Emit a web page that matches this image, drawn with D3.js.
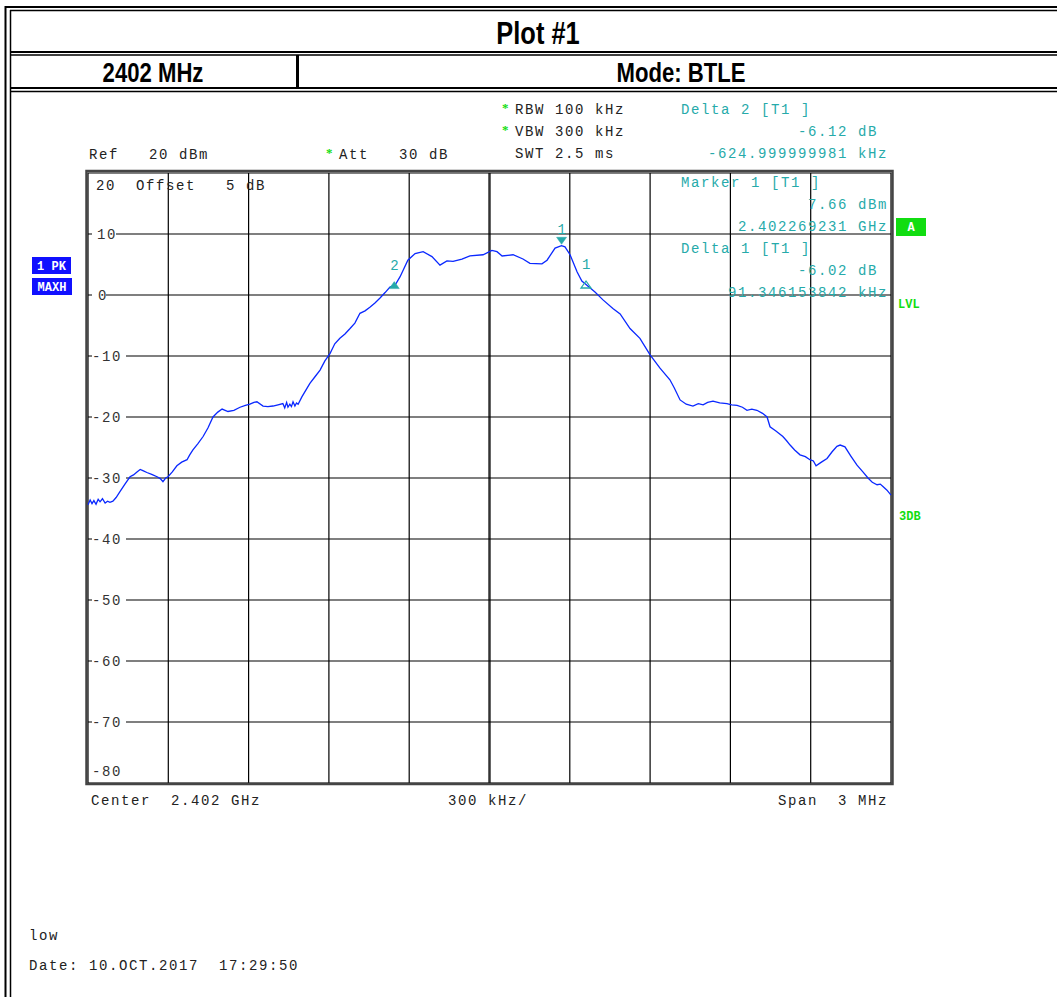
<!DOCTYPE html>
<html><head><meta charset="utf-8">
<script src="https://cdn.jsdelivr.net/npm/d3@7/dist/d3.min.js"></script>
<style>
html,body{margin:0;padding:0;background:#fff;}
svg{display:block;}
.mono{font-family:"Liberation Mono","Courier New",monospace;font-size:14px;letter-spacing:1.6px;}
.head{font-family:"Liberation Sans Narrow","Arial Narrow","Liberation Sans",sans-serif;}
</style></head>
<body>
<svg id="c" width="1057" height="997"></svg>
<script>
// ---- data ----
const centerGHz = 2.402;
const spanMHz = 3;
// trace: frequency offset from center (kHz) and level (dBm)
const traceOffsetKHz = [-1500,-1492,-1485,-1478,-1470,-1462,-1455,-1446,-1436,-1427,-1418,-1407,-1395,-1380,-1362,-1343,-1330,-1317,-1305,-1295,-1280,-1262,-1242,-1230,-1220,-1210,-1201,-1185,-1168,-1150,-1130,-1120,-1108,-1090,-1070,-1052,-1033,-1015,-999,-977,-955,-932,-912,-895,-880,-869,-846,-828,-809,-790,-772,-765,-758,-753,-746,-740,-734,-727,-721,-715,-701,-686,-671,-652,-633,-615,-596,-578,-559,-540,-521,-503,-484,-465,-447,-428,-409,-390,-372,-353,-334,-305,-278,-248,-215,-185,-159,-136,-103,-73,-24,9,28,47,88,125,151,196,215,245,269,282,301,327,345,364,394,424,461,488,525,562,600,637,674,690,712,735,760,780,798,815,835,860,887,905,925,945,962,980,999,1020,1037,1048,1070,1096,1110,1123,1140,1160,1180,1197,1210,1220,1240,1261,1280,1298,1310,1328,1350,1373,1395,1414,1430,1448,1460,1470,1485,1500];
const traceLevelDbm = [-34.4,-33.6,-34.2,-33.7,-34.3,-33.5,-33.9,-33.4,-34.1,-33.8,-34.0,-33.8,-33.2,-32.2,-31.0,-29.8,-29.5,-29.0,-28.6,-28.8,-29.1,-29.4,-29.8,-30.1,-30.6,-30.0,-29.8,-29.0,-28.0,-27.4,-27.0,-26.2,-25.4,-24.4,-23.2,-21.8,-20.0,-19.2,-18.7,-19.1,-18.9,-18.4,-18.1,-17.9,-17.6,-17.5,-18.2,-18.3,-18.2,-18.0,-17.8,-18.5,-17.6,-18.4,-17.9,-18.3,-17.5,-18.2,-17.7,-17.9,-16.7,-15.6,-14.5,-13.4,-12.3,-10.8,-9.6,-8.0,-7.1,-6.4,-5.5,-4.6,-3.0,-2.6,-2.0,-1.3,-0.5,0.4,1.3,1.6,3.0,5.7,6.8,7.1,6.3,4.9,5.6,5.5,5.9,6.4,6.6,7.3,7.1,6.4,6.6,5.9,5.2,5.1,5.7,7.7,8.1,7.9,6.6,3.8,2.3,1.6,0.5,-0.8,-2.2,-3.1,-5.5,-7.1,-9.8,-12.0,-13.9,-15.2,-17.2,-17.9,-18.2,-17.8,-18.0,-17.6,-17.4,-17.7,-17.8,-18.0,-18.1,-18.4,-18.9,-18.7,-18.9,-19.4,-20.0,-21.6,-22.3,-23.2,-23.9,-24.6,-25.4,-26.2,-26.5,-27.0,-27.2,-28.0,-27.4,-26.8,-25.7,-24.8,-24.6,-24.9,-26.4,-27.9,-29.0,-30.0,-30.7,-31.1,-31.0,-31.4,-32.0,-32.8];
const yTickValues = [10,0,-10,-20,-30,-40,-50,-60,-70];
const yTickLabels = ["10","0","-10","-20","-30","-40","-50","-60","-70"];
const markerLabels = ["1","2","1"];
const markerOffsetKHz = [269.231,-355.769,360.577];
const markerLevelDbm = [7.66,1.54,1.64];
const markerKinds = ["down","up","open"];
const infoLeft = ["Ref   20 dBm"];
const infoLines = [["*","RBW 100 kHz"],["*","VBW 300 kHz"],["","SWT 2.5 ms"]];
const markerInfo = ["Delta 2 [T1 ]","-6.12 dB ","-624.999999981 kHz","Marker 1 [T1 ]","7.66 dBm","2.402269231 GHz","Delta 1 [T1 ]","-6.02 dB ","91.346153842 kHz"];

// ---- drawing ----
const svg = d3.select("#c");
const L = 88, R = 891, T = 173, B = 783;
const x = d3.scaleLinear().domain([-spanMHz*500, spanMHz*500]).range([L, R]);
const y = d3.scaleLinear().domain([-80, 20]).range([B, T]);
const teal = "#26aaaa", green = "#11dd11", blue = "#1010ff";

// page borders / header table
const g0 = svg.append("g").attr("stroke","#000").attr("fill","none");
[[5,7,1057,7,2],[10,10.5,1057,10.5,1.5],[10,52,1057,52,2],[10,55,1057,55,1.5],[10,88,1057,88,2],[10,91.5,1057,91.5,1.5]]
  .forEach(d=>g0.append("line").attr("x1",d[0]).attr("y1",d[1]).attr("x2",d[2]).attr("y2",d[3]).attr("stroke-width",d[4]));
[[5.5,6,5.5,997,2],[10.5,10,10.5,997,1.5],[297.5,55,297.5,88,3]]
  .forEach(d=>g0.append("line").attr("x1",d[0]).attr("y1",d[1]).attr("x2",d[2]).attr("y2",d[3]).attr("stroke-width",d[4]));
const headText = (cx, cy, size, txt) => {
  svg.append("text").attr("class","head").attr("transform",`translate(${cx},${cy}) scale(0.82,1)`)
    .attr("text-anchor","middle").attr("font-size",size).attr("font-weight","bold").text(txt);
};
headText(538, 44, 31, "Plot #1");
headText(153, 82, 27, "2402 MHz");
headText(681, 82, 27, "Mode: BTLE");

// grid
const grid = svg.append("g").attr("stroke","#000");
d3.range(0,11).forEach(i=>{
  const xv = x(-1500 + i*300);
  grid.append("line").attr("x1",xv).attr("x2",xv).attr("y1",T).attr("y2",B)
    .attr("stroke-width", i===5 ? 2.5 : 1.2).attr("stroke", i===5 ? "#333" : "#000");
});
d3.range(0,11).forEach(i=>{
  const yv = y(20 - i*10);
  grid.append("line").attr("x1",L).attr("x2",R).attr("y1",yv).attr("y2",yv).attr("stroke-width",1.2);
});
// frame
svg.append("rect").attr("x",L-1.5).attr("y",T-2).attr("width",R-L+3).attr("height",B-T+3)
  .attr("fill","none").attr("stroke","#444").attr("stroke-width",2.5);

// y tick labels
const yt = svg.append("g");
yTickValues.forEach((v,i)=>{
  const lab = yTickLabels[i];
  const w = lab.length*10;
  yt.append("rect").attr("x",L+4).attr("y",y(v)-7).attr("width",w+4).attr("height",14).attr("fill","#fff");
  yt.append("text").attr("class","mono").attr("x",L+(lab.length===1?10:(lab.length===2?9:4))).attr("y",y(v)+5)
    .attr("fill","#333").text(lab);
});
yt.append("text").attr("class","mono").attr("x",L+4).attr("y",y(-78)+5).attr("fill","#333").text("-80");
svg.append("text").attr("class","mono").attr("x",96).attr("y",190).attr("fill","#222").attr("xml:space","preserve").text("20  Offset   5 dB");

// info texts
const info = svg.append("g");
info.append("text").attr("class","mono").attr("x",89).attr("y",159).attr("fill","#222").attr("xml:space","preserve").text(infoLeft[0]);
info.append("text").attr("x",326).attr("y",157).attr("fill",green).attr("font-size",13).attr("font-weight","bold").text("*");
info.append("text").attr("class","mono").attr("x",339).attr("y",159).attr("fill","#222").attr("xml:space","preserve").text("Att   30 dB");
infoLines.forEach((d,i)=>{
  const yy = 114 + i*22;
  if (d[0]) info.append("text").attr("x",502).attr("y",yy-2).attr("fill",green).attr("font-size",13).attr("font-weight","bold").text(d[0]);
  info.append("text").attr("class","mono").attr("x",515).attr("y",yy).attr("fill","#222").attr("xml:space","preserve").text(d[1]);
});
markerInfo.forEach((t,i)=>{
  const yy = 114 + i*22 + (i>=3 ? 7 : 0);
  const isHead = (i%3===0);
  info.append("text").attr("class","mono").attr("xml:space","preserve")
    .attr("x", isHead ? 681 : 888).attr("y", yy)
    .attr("text-anchor", isHead ? "start" : "end")
    .attr("fill", teal).text(t);
});
// bottom
info.append("text").attr("class","mono").attr("x",91).attr("y",805).attr("fill","#222").attr("xml:space","preserve").text("Center  2.402 GHz");
info.append("text").attr("class","mono").attr("x",448).attr("y",805).attr("fill","#222").text("300 kHz/");
info.append("text").attr("class","mono").attr("x",888).attr("y",805).attr("text-anchor","end").attr("fill","#222").attr("xml:space","preserve").text("Span  3 MHz");
info.append("text").attr("class","mono").attr("x",29).attr("y",940).attr("fill","#222").text("low");
info.append("text").attr("class","mono").attr("x",29).attr("y",970).attr("fill","#222").attr("xml:space","preserve").text("Date: 10.OCT.2017  17:29:50");

// side badges
const badge = (bx,by,w,h,fill,txt)=>{
  svg.append("rect").attr("x",bx).attr("y",by).attr("width",w).attr("height",h).attr("fill",fill);
  svg.append("text").attr("x",bx+w/2).attr("y",by+h/2+4).attr("text-anchor","middle")
    .attr("font-family","Liberation Mono, monospace").attr("font-weight","bold").attr("font-size",12)
    .attr("fill","#fff").text(txt);
};
badge(32,257,39,17,blue,"1 PK");
badge(32,278,40,17,blue,"MAXH");
badge(896,218,30,18,green,"A");
svg.append("text").attr("x",898).attr("y",308).attr("font-family","Liberation Mono, monospace").attr("font-weight","bold").attr("font-size",12).attr("fill",green).text("LVL");
svg.append("text").attr("x",899).attr("y",520).attr("font-family","Liberation Mono, monospace").attr("font-weight","bold").attr("font-size",12).attr("fill",green).text("3DB");

// trace
const pts = traceOffsetKHz.map((f,i)=>[f, traceLevelDbm[i]]);
svg.append("path").datum(pts)
  .attr("d", d3.line().x(d=>x(d[0])).y(d=>y(d[1])))
  .attr("fill","none").attr("stroke","#0a28ff").attr("stroke-width",1.3);

// markers
markerOffsetKHz.forEach((f,i)=>{
  const mx = x(f), my = y(markerLevelDbm[i]);
  const kind = markerKinds[i];
  let path, ly;
  if (kind==="down") {
    const ty = my - 4;
    path = `M${mx-5},${ty-7}L${mx+5},${ty-7}L${mx},${ty}Z`;
    ly = ty - 10;
  } else {
    path = `M${mx-5},${my+3}L${mx+5},${my+3}L${mx},${my-4}Z`;
    ly = my - 16;
  }
  svg.append("path").attr("d",path)
    .attr("fill", kind==="open" ? "none" : teal)
    .attr("stroke", teal).attr("stroke-width", kind==="open"?1.3:0.5);
  svg.append("text").attr("class","mono").attr("x",mx+1).attr("y",ly).attr("text-anchor","middle")
    .attr("fill",teal).attr("letter-spacing",0).text(markerLabels[i]);
});
</script>
</body></html>
